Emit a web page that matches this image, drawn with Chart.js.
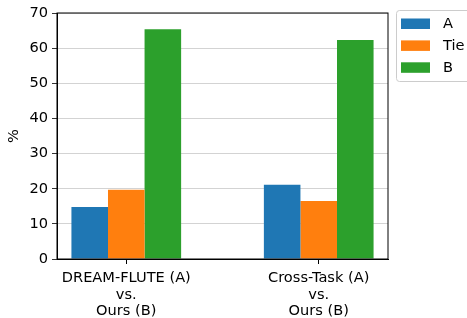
<!DOCTYPE html>
<html>
<head>
<meta charset="utf-8">
<script src="https://cdn.jsdelivr.net/npm/chart.js@4.4.0/dist/chart.umd.min.js"></script>
<style>
  body { margin: 0; background: #fff; }
  #wrap { width: 467px; height: 318px; }
</style>
</head>
<body>
<div id="wrap"><canvas id="barChart" width="467" height="318"></canvas></div>
<script>
// data
var groupLabels = [['DREAM-FLUTE (A)', 'vs.', 'Ours (B)'], ['Cross-Task (A)', 'vs.', 'Ours (B)']];
var seriesNames = ['A', 'Tie', 'B'];
var valuesA = [14.8, 21.1];
var valuesTie = [19.7, 16.5];
var valuesB = [65.4, 62.3];
var yTicks = [0, 10, 20, 30, 40, 50, 60, 70];

var colors = ['#1f77b4', '#ff7f0e', '#2ca02c'];
var font = { family: 'DejaVu Sans', size: 14.6, lineHeight: 1.11 };

function pts(vals) {
    return vals.map(function (v, i) { return { x: i, y: v }; });
}

var allSeries = [valuesA, valuesTie, valuesB];
var datasets = [];
for (var s = 0; s < seriesNames.length; s++) {
    datasets.push({
        label: seriesNames[s],
        data: pts(allSeries[s]),
        backgroundColor: colors[s],
        borderWidth: 0,
        categoryPercentage: 0.57,
        barPercentage: 1.0
    });
}

// frame round the plot area + matplotlib-like legend outside on the right
var framePlugin = {
    id: 'frame',
    afterDraw: function (chart) {
        var c = chart.ctx, a = chart.chartArea;
        c.save();
        c.strokeStyle = '#000';
        c.lineWidth = 1;
        c.strokeRect(a.left, a.top, a.right - a.left, a.bottom - a.top);

        var bx = a.right + 8, by = a.top - 3;
        c.beginPath();
        c.roundRect(bx + 0.5, by + 0.5, 90, 71, 3);
        c.fillStyle = 'rgba(255,255,255,0.8)';
        c.fill();
        c.strokeStyle = '#cccccc';
        c.stroke();

        c.font = font.size + 'px ' + font.family;
        c.textBaseline = 'middle';
        c.textAlign = 'left';
        chart.data.datasets.forEach(function (ds, i) {
            var cy = by + 13.5 + i * 21.9;
            c.fillStyle = ds.backgroundColor;
            c.fillRect(bx + 5, cy - 5, 29, 10.5);
            c.fillStyle = '#000';
            c.fillText(ds.label, bx + 47, cy + 0.5);
        });
        c.restore();
    }
};

var ctx = document.getElementById('barChart').getContext('2d');
var barChart = new Chart(ctx, {
    type: 'bar',
    data: { datasets: datasets },
    options: {
        responsive: false,
        animation: false,
        devicePixelRatio: 1,
        layout: { padding: { left: 0, right: 79, top: 13, bottom: 0 } },
        plugins: {
            legend: { display: false },
            tooltip: { enabled: false }
        },
        scales: {
            x: {
                type: 'linear',
                min: -0.36,
                max: 1.36,
                offset: false,
                afterBuildTicks: function (scale) {
                    scale.ticks = groupLabels.map(function (l, i) { return { value: i }; });
                },
                afterFit: function (scale) { scale.height = 59; },
                ticks: {
                    font: font,
                    color: '#000',
                    padding: 6.5,
                    maxRotation: 0,
                    autoSkip: false,
                    callback: function (v) { return groupLabels[v]; }
                },
                grid: {
                    offset: false,
                    drawOnChartArea: false,
                    drawTicks: true,
                    tickLength: 5,
                    tickColor: '#000'
                },
                border: { color: '#000', width: 1 }
            },
            y: {
                min: 0,
                max: 70,
                afterBuildTicks: function (scale) {
                    scale.ticks = yTicks.map(function (v) { return { value: v }; });
                },
                afterFit: function (scale) { scale.width = 57; },
                title: {
                    display: true,
                    text: '%',
                    font: font,
                    color: '#000',
                    padding: { top: 6, bottom: 0 }
                },
                ticks: {
                    font: font,
                    color: '#000',
                    padding: 4
                },
                grid: {
                    color: '#c8c8c8',
                    lineWidth: 0.8,
                    tickLength: 5,
                    tickColor: '#000'
                },
                border: { color: '#000', width: 1 }
            }
        }
    },
    plugins: [framePlugin]
});
</script>
</body>
</html>
